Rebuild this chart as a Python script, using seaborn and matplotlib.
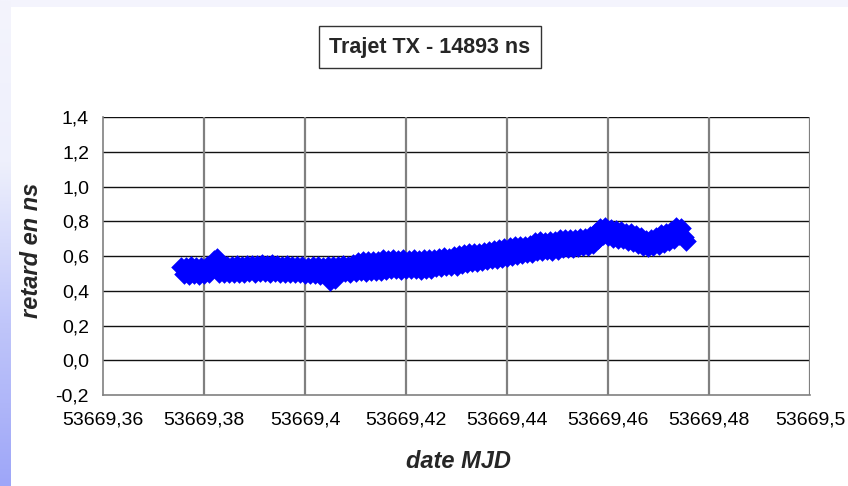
import numpy as np
import pandas as pd
import matplotlib
matplotlib.use("Agg")
import matplotlib.pyplot as plt
import seaborn as sns
from matplotlib.colors import LinearSegmentedColormap

sns.set_theme(style="white")
plt.rcParams['font.family'] = ['Liberation Sans', 'DejaVu Sans']

# ---- data ----
mjd = [
    53669.3755, 53669.3760, 53669.3765, 53669.3770, 53669.3775, 53669.3780, 53669.3785, 53669.3790, 53669.3795, 53669.3800,
    53669.3805, 53669.3810, 53669.3815, 53669.3820, 53669.3825, 53669.3830, 53669.3835, 53669.3840, 53669.3845, 53669.3850,
    53669.3855, 53669.3860, 53669.3865, 53669.3870, 53669.3875, 53669.3880, 53669.3885, 53669.3890, 53669.3895, 53669.3900,
    53669.3905, 53669.3910, 53669.3915, 53669.3920, 53669.3925, 53669.3930, 53669.3935, 53669.3940, 53669.3945, 53669.3950,
    53669.3955, 53669.3960, 53669.3965, 53669.3970, 53669.3975, 53669.3980, 53669.3985, 53669.3990, 53669.3995, 53669.4000,
    53669.4005, 53669.4010, 53669.4015, 53669.4020, 53669.4025, 53669.4030, 53669.4035, 53669.4040, 53669.4045, 53669.4050,
    53669.4055, 53669.4060, 53669.4065, 53669.4070, 53669.4075, 53669.4080, 53669.4085, 53669.4090, 53669.4095, 53669.4100,
    53669.4105, 53669.4110, 53669.4115, 53669.4120, 53669.4125, 53669.4130, 53669.4135, 53669.4140, 53669.4145, 53669.4150,
    53669.4155, 53669.4160, 53669.4165, 53669.4170, 53669.4175, 53669.4180, 53669.4185, 53669.4190, 53669.4195, 53669.4200,
    53669.4205, 53669.4210, 53669.4215, 53669.4220, 53669.4225, 53669.4230, 53669.4235, 53669.4240, 53669.4245, 53669.4250,
    53669.4255, 53669.4260, 53669.4265, 53669.4270, 53669.4275, 53669.4280, 53669.4285, 53669.4290, 53669.4295, 53669.4300,
    53669.4305, 53669.4310, 53669.4315, 53669.4320, 53669.4325, 53669.4330, 53669.4335, 53669.4340, 53669.4345, 53669.4350,
    53669.4355, 53669.4360, 53669.4365, 53669.4370, 53669.4375, 53669.4380, 53669.4385, 53669.4390, 53669.4395, 53669.4400,
    53669.4405, 53669.4410, 53669.4415, 53669.4420, 53669.4425, 53669.4430, 53669.4435, 53669.4440, 53669.4445, 53669.4450,
    53669.4455, 53669.4460, 53669.4465, 53669.4470, 53669.4475, 53669.4480, 53669.4485, 53669.4490, 53669.4495, 53669.4500,
    53669.4505, 53669.4510, 53669.4515, 53669.4520, 53669.4525, 53669.4530, 53669.4535, 53669.4540, 53669.4545, 53669.4550,
    53669.4555, 53669.4560, 53669.4565, 53669.4570, 53669.4575, 53669.4580, 53669.4585, 53669.4590, 53669.4595, 53669.4600,
    53669.4605, 53669.4610, 53669.4615, 53669.4620, 53669.4625, 53669.4630, 53669.4635, 53669.4640, 53669.4645, 53669.4650,
    53669.4655, 53669.4660, 53669.4665, 53669.4670, 53669.4675, 53669.4680, 53669.4685, 53669.4690, 53669.4695, 53669.4700,
    53669.4705, 53669.4710, 53669.4715, 53669.4720, 53669.4725, 53669.4730, 53669.4735, 53669.4740, 53669.4745, 53669.4750,
    53669.4755,
]

retard = [
    0.535, 0.495, 0.535, 0.490, 0.540, 0.495, 0.535, 0.490, 0.535, 0.495,
    0.540, 0.500, 0.540, 0.575, 0.590, 0.505, 0.545, 0.500, 0.545, 0.505,
    0.545, 0.505, 0.550, 0.505, 0.545, 0.500, 0.550, 0.510, 0.550, 0.505,
    0.550, 0.510, 0.555, 0.510, 0.550, 0.505, 0.555, 0.510, 0.550, 0.505,
    0.545, 0.505, 0.550, 0.505, 0.545, 0.500, 0.540, 0.500, 0.540, 0.495,
    0.535, 0.495, 0.540, 0.495, 0.540, 0.490, 0.535, 0.495, 0.545, 0.455,
    0.540, 0.470, 0.545, 0.505, 0.550, 0.510, 0.545, 0.505, 0.555, 0.510,
    0.565, 0.515, 0.570, 0.510, 0.570, 0.515, 0.570, 0.515, 0.570, 0.515,
    0.580, 0.520, 0.575, 0.525, 0.580, 0.525, 0.575, 0.520, 0.580, 0.525,
    0.575, 0.525, 0.580, 0.525, 0.575, 0.520, 0.580, 0.525, 0.580, 0.525,
    0.585, 0.535, 0.590, 0.535, 0.595, 0.540, 0.590, 0.545, 0.600, 0.545,
    0.605, 0.555, 0.610, 0.560, 0.615, 0.565, 0.615, 0.565, 0.620, 0.570,
    0.625, 0.575, 0.630, 0.580, 0.635, 0.585, 0.640, 0.590, 0.645, 0.595,
    0.650, 0.600, 0.655, 0.605, 0.660, 0.610, 0.660, 0.615, 0.665, 0.620,
    0.680, 0.630, 0.685, 0.630, 0.680, 0.635, 0.685, 0.630, 0.685, 0.635,
    0.695, 0.645, 0.700, 0.645, 0.700, 0.645, 0.700, 0.650, 0.705, 0.655,
    0.705, 0.660, 0.715, 0.670, 0.735, 0.700, 0.760, 0.720, 0.765, 0.715,
    0.755, 0.705, 0.750, 0.700, 0.745, 0.695, 0.735, 0.685, 0.730, 0.680,
    0.720, 0.670, 0.710, 0.660, 0.690, 0.650, 0.695, 0.655, 0.710, 0.665,
    0.725, 0.675, 0.735, 0.685, 0.745, 0.700, 0.765, 0.720, 0.760, 0.710,
    0.685,
]

x_ticks = [53669.36, 53669.38, 53669.40, 53669.42, 53669.44, 53669.46, 53669.48, 53669.50]
x_tick_labels = ["53669,36", "53669,38", "53669,4", "53669,42", "53669,44",
                 "53669,46", "53669,48", "53669,5"]
y_ticks = [-0.2, 0.0, 0.2, 0.4, 0.6, 0.8, 1.0, 1.2, 1.4]
y_tick_labels = ["-0,2", "0,0", "0,2", "0,4", "0,6", "0,8", "1,0", "1,2", "1,4"]

title = "Trajet TX - 14893 ns"
xlabel = "date MJD"
ylabel = "retard en ns"

df = pd.DataFrame({"mjd": mjd, "retard": retard})

W, H = 848, 486
fig = plt.figure(figsize=(W / 100, H / 100), dpi=100)
fig.patch.set_facecolor("#f4f4fd")

# white panel
bg = fig.add_axes([11 / W, 0, 1 - 11 / W, 1 - 7 / H])
bg.set_facecolor("white")
bg.set_xticks([]); bg.set_yticks([])
for s in bg.spines.values():
    s.set_visible(False)
bg.set_zorder(-10)

# left gradient strip
strip = fig.add_axes([0, 0, 11 / W, 1])
cmap = LinearSegmentedColormap.from_list("g", ["#f4f4fd", "#eef0fc", "#c0c6fa", "#9ea6f8"])
strip.imshow(np.linspace(0, 1, 200).reshape(-1, 1), aspect="auto", cmap=cmap, origin="upper")
strip.set_xticks([]); strip.set_yticks([])
for s in strip.spines.values():
    s.set_visible(False)
strip.set_zorder(-10)

ax = fig.add_axes([103 / W, 1 - 395 / H, (810 - 103) / W, (395 - 117) / H])
ax.set_facecolor("none")

sns.scatterplot(data=df, x="mjd", y="retard", ax=ax, marker="D", s=110,
                color="#0000ff", linewidth=0, alpha=1.0, zorder=3, legend=False)

ax.set_xlim(53669.36, 53669.50)
ax.set_ylim(-0.2, 1.4)
ax.set_xticks(x_ticks)
ax.set_xticklabels(x_tick_labels, fontsize=14)
ax.set_yticks(y_ticks)
ax.set_yticklabels(y_tick_labels, fontsize=14)

for yv in y_ticks[1:]:
    ax.axhline(yv, color="#111111", lw=1.0, zorder=1)
for xv in x_ticks[1:]:
    ax.axvline(xv, color="#808080", lw=1.6, zorder=1)

for side in ["top", "right"]:
    ax.spines[side].set_visible(False)
for side in ["left", "bottom"]:
    ax.spines[side].set_color("#808080")
    ax.spines[side].set_linewidth(1.2)

ax.tick_params(axis="both", direction="out", length=5, width=1, color="#808080",
               labelcolor="black")
ax.tick_params(axis="x", pad=7)
ax.tick_params(axis="y", pad=5)

ax.set_xlabel("")
ax.set_ylabel("")
fig.text(458 / W, 1 - 461 / H, xlabel, ha="center", va="center", fontsize=17,
         fontweight="bold", fontstyle="italic")
fig.text(31 / W, 1 - 250 / H, ylabel, ha="center", va="center", fontsize=17,
         fontweight="bold", fontstyle="italic", rotation=90)

fig.text(430 / W, 1 - 47 / H, title, ha="center", va="center", fontsize=15.5,
         fontweight="bold",
         bbox=dict(boxstyle="square,pad=0.5", facecolor="white", edgecolor="#333333", linewidth=1))

fig.savefig("out.png", dpi=100)
